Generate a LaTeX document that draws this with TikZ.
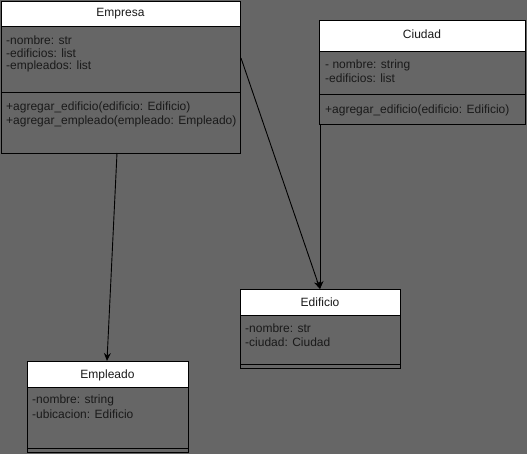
\documentclass[tikz,border=0pt]{standalone}
\usepackage{fontspec}
\setmainfont{Liberation Sans}
\usetikzlibrary{arrows.meta}
\definecolor{bg}{HTML}{666666}
\definecolor{ink}{HTML}{1A1A1A}
\begin{document}
\begin{tikzpicture}[x=1pt,y=-1pt,
  box/.style={draw=black, line width=0.9pt, fill=bg},
  head/.style={draw=black, line width=0.9pt, fill=white},
  title/.style={font=\fontsize{12}{14}\selectfont, text=ink, inner sep=0pt},
  txt/.style={font=\fontsize{12}{14}\selectfont, text=ink, inner sep=0pt, anchor=west},
  conn/.style={draw=black, line width=0.9pt, -{Stealth[length=8pt,width=7pt]}}
]
\fill[bg] (0,0) rectangle (527,454);
\useasboundingbox (0,0) rectangle (527,454);

% Empresa
\draw[box] (1,1) rectangle (240,153);
\draw[head] (1,1) rectangle (240,26);
\draw[black, line width=0.9pt] (1,92) -- (240,92);
\node[title] (empresa) at (120.5,13.5) {Empresa};
\node[txt] (e1) at (6,40) {-nombre: str};
\node[txt] (e2) at (6,53) {-edificios: list};
\node[txt] (e3) at (6,66) {-empleados: list};
\node[txt] (e4) at (6,107) {+agregar\_edificio(edificio: Edificio)};
\node[txt] (e5) at (6,121) {+agregar\_empleado(empleado: Empleado)};
\coordinate (empR) at (241,58);
\coordinate (empB) at (117,153);

% Ciudad
\draw[box] (319,20) rectangle (525,124);
\draw[head] (319,20) rectangle (525,51);
\draw[black, line width=0.9pt] (319,94) -- (525,94);
\node[title] (ciudad) at (422,34) {Ciudad};
\node[txt] (c1) at (325,65) {- nombre: string};
\node[txt] (c2) at (325,78) {-edificios: list};
\node[txt] (c3) at (325,110) {+agregar\_edificio(edificio: Edificio)};
\coordinate (ciuB) at (320,124);

% Edificio
\draw[box] (240,289) rectangle (400,368);
\draw[head] (240,289) rectangle (400,315);
\draw[black, line width=0.9pt] (240,364) -- (400,364);
\node[title] (edificio) at (320,302) {Edificio};
\node[txt] (d1) at (245,328) {-nombre: str};
\node[txt] (d2) at (245,342) {-ciudad: Ciudad};
\coordinate (ediT) at (320,289);

% Empleado
\draw[box] (27,361) rectangle (188,452);
\draw[head] (27,361) rectangle (188,387);
\draw[black, line width=0.9pt] (27,448) -- (188,448);
\node[title] (empleado) at (107.5,375) {Empleado};
\node[txt] (p1) at (32,400) {-nombre: string};
\node[txt] (p2) at (32,414) {-ubicacion: Edificio};
\coordinate (emplT) at (107,361);

% connectors
\draw[conn] (empR) -- (ediT);
\draw[conn] (ciuB) -- (ediT);
\draw[conn] (empB) -- (emplT);
\end{tikzpicture}
\end{document}
